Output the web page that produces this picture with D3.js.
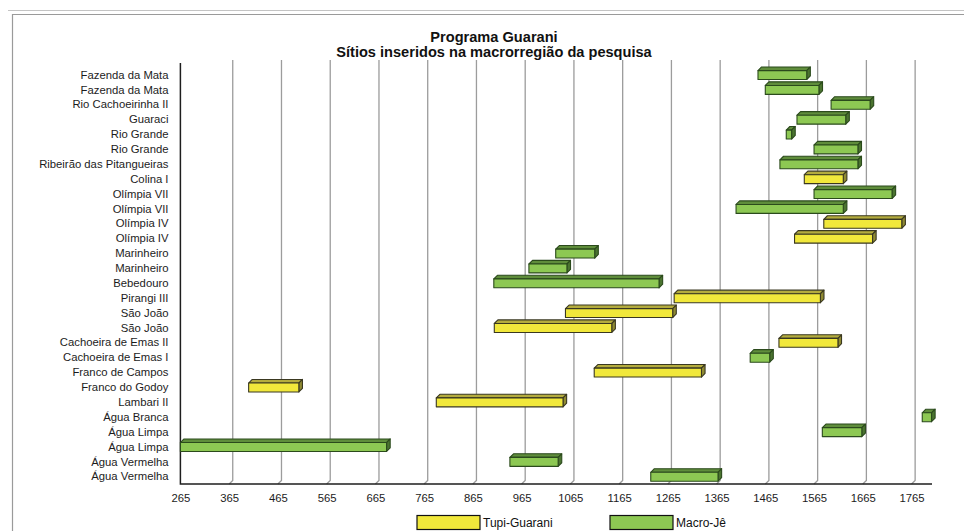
<!DOCTYPE html>
<html>
<head>
<meta charset="utf-8">
<script src="https://cdn.jsdelivr.net/npm/d3@7"></script>
<style>
  html, body { margin: 0; padding: 0; background: #fff; }
  svg { display: block; font-family: "Liberation Sans", Arial, sans-serif; }
</style>
</head>
<body>
<svg id="chart" width="964" height="531"></svg>
<script>
// Sites, listed top to bottom
const sites = [
  "Fazenda da Mata", "Fazenda da Mata", "Rio Cachoeirinha II", "Guaraci",
  "Rio Grande", "Rio Grande", "Ribeirão das Pitangueiras", "Colina I",
  "Olímpia VII", "Olímpia VII", "Olímpia IV", "Olímpia IV",
  "Marinheiro", "Marinheiro", "Bebedouro", "Pirangi III",
  "São João", "São João", "Cachoeira de Emas II", "Cachoeira de Emas I",
  "Franco de Campos", "Franco do Godoy", "Lambari II", "Água Branca",
  "Água Limpa", "Água Limpa", "Água Vermelha", "Água Vermelha"
];
// Occupation span of each site (years)
const starts = [
  1450, 1465, 1600, 1530,
  1508, 1565, 1495, 1545,
  1565, 1405, 1585, 1525,
  1035, 980, 908, 1278,
  1055, 909, 1493, 1434,
  1114, 405, 790, 1787,
  1582, 265, 941, 1230
];
const ends = [
  1550, 1575, 1680, 1630,
  1519, 1655, 1655, 1625,
  1725, 1625, 1745, 1685,
  1115, 1058, 1247, 1578,
  1275, 1150, 1614, 1474,
  1334, 508, 1050, 1806,
  1663, 688, 1040, 1368
];
// Ceramic tradition of each site
const traditions = [
  "Macro-Jê", "Macro-Jê", "Macro-Jê", "Macro-Jê",
  "Macro-Jê", "Macro-Jê", "Macro-Jê", "Tupi-Guarani",
  "Macro-Jê", "Macro-Jê", "Tupi-Guarani", "Tupi-Guarani",
  "Macro-Jê", "Macro-Jê", "Macro-Jê", "Tupi-Guarani",
  "Tupi-Guarani", "Tupi-Guarani", "Tupi-Guarani", "Macro-Jê",
  "Tupi-Guarani", "Tupi-Guarani", "Tupi-Guarani", "Macro-Jê",
  "Macro-Jê", "Macro-Jê", "Macro-Jê", "Macro-Jê"
];
const traditionNames = ["Tupi-Guarani", "Macro-Jê"];
const tickYears = [265, 365, 465, 565, 665, 765, 865, 965, 1065, 1165, 1265, 1365, 1465, 1565, 1665, 1765];
const yearMin = 265, yearMax = 1807;
const titleLines = ["Programa Guarani", "Sítios inseridos na macrorregião da pesquisa"];

const palette = {
  "Tupi-Guarani": { front: "#f1e83b", top: "#b4ac3e", side: "#8f8a33", stroke: "#3a3820" },
  "Macro-Jê":     { front: "#8dc853", top: "#5f8d3b", side: "#4b7430", stroke: "#2b4a1c" }
};

const svg = d3.select("#chart");
const depth = 3.6;               // 3D offset of the back wall
const floorY = 484;

// chart area frame
svg.append("line").attr("x1", 8).attr("x2", 964).attr("y1", 10.5).attr("y2", 10.5)
  .attr("stroke", "#c4c4c4").attr("stroke-width", 1.2);
svg.append("path").attr("d", "M12.5,531 V14.5 H964")
  .attr("fill", "none").attr("stroke", "#9a9a9a").attr("stroke-width", 1.2);

const x = d3.scaleLinear().domain([yearMin, yearMax]).range([180.4, 932]);
const y = d3.scaleBand().domain(d3.range(sites.length))
  .range([67.6, floorY + 0.2]).paddingInner(0.4).paddingOuter(0.2);

// back-wall gridlines that fold onto the floor
const grid = svg.append("g");
tickYears.slice(1).forEach(v => {
  const xf = x(v), xb = xf + depth;
  grid.append("path")
    .attr("d", `M${xb},60 V${floorY - depth} L${xf},${floorY}`)
    .attr("fill", "none").attr("stroke", "#9c9c9c").attr("stroke-width", 1.3);
});

// floor front edge and left wall edge
svg.append("path")
  .attr("d", `M${x(yearMin)},63 V${floorY} H${x(yearMax)}`)
  .attr("fill", "none").attr("stroke", "#1e1e1e").attr("stroke-width", 1.5);

// bars drawn as flat 3D boxes
const bars = svg.append("g");
sites.forEach((s, i) => {
  const c = palette[traditions[i]];
  const x0 = x(starts[i]), x1 = x(ends[i]);
  const y0 = y(i), h = y.bandwidth();
  const g = bars.append("g").attr("stroke", c.stroke).attr("stroke-width", 1.1)
    .attr("stroke-linejoin", "round");
  g.append("path").attr("fill", c.top)
    .attr("d", `M${x0},${y0} L${x0 + depth},${y0 - depth} L${x1 + depth},${y0 - depth} L${x1},${y0} Z`);
  g.append("path").attr("fill", c.side)
    .attr("d", `M${x1},${y0} L${x1 + depth},${y0 - depth} L${x1 + depth},${y0 + h - depth} L${x1},${y0 + h} Z`);
  g.append("rect").attr("fill", c.front)
    .attr("x", x0).attr("y", y0).attr("width", x1 - x0).attr("height", h);
});

// category axis
const yAxis = svg.append("g").attr("transform", "translate(180,0)")
  .call(d3.axisLeft(y).tickSize(0).tickPadding(11.5).tickFormat(i => sites[i]));
yAxis.select(".domain").remove();
yAxis.selectAll("text").attr("font-size", "11.3px").attr("fill", "#1c1c1c")
  .attr("font-family", "Liberation Sans, Arial, sans-serif");

// year axis
const xAxis = svg.append("g").attr("transform", `translate(0,${floorY})`)
  .call(d3.axisBottom(x).tickValues(tickYears).tickSize(0).tickPadding(10).tickFormat(d3.format("d")));
xAxis.select(".domain").remove();
xAxis.selectAll("text").attr("font-size", "11.3px").attr("fill", "#1c1c1c")
  .attr("font-family", "Liberation Sans, Arial, sans-serif");

// title
svg.append("g").selectAll("text").data(titleLines).join("text")
  .attr("x", 494).attr("y", (d, i) => 42 + i * 14.5)
  .attr("text-anchor", "middle").attr("font-weight", "bold").attr("font-size", "14.6px")
  .attr("fill", "#111").text(d => d);

// legend
const legendX = [417, 610];
const legend = svg.append("g");
traditionNames.forEach((t, i) => {
  legend.append("rect").attr("x", legendX[i]).attr("y", 515.5).attr("width", 63).attr("height", 14)
    .attr("fill", palette[t].front).attr("stroke", "#111").attr("stroke-width", 1.2);
  legend.append("text").attr("x", legendX[i] + 66).attr("y", 527)
    .attr("font-size", "12px").attr("fill", "#111").text(t);
});
</script>
</body>
</html>
